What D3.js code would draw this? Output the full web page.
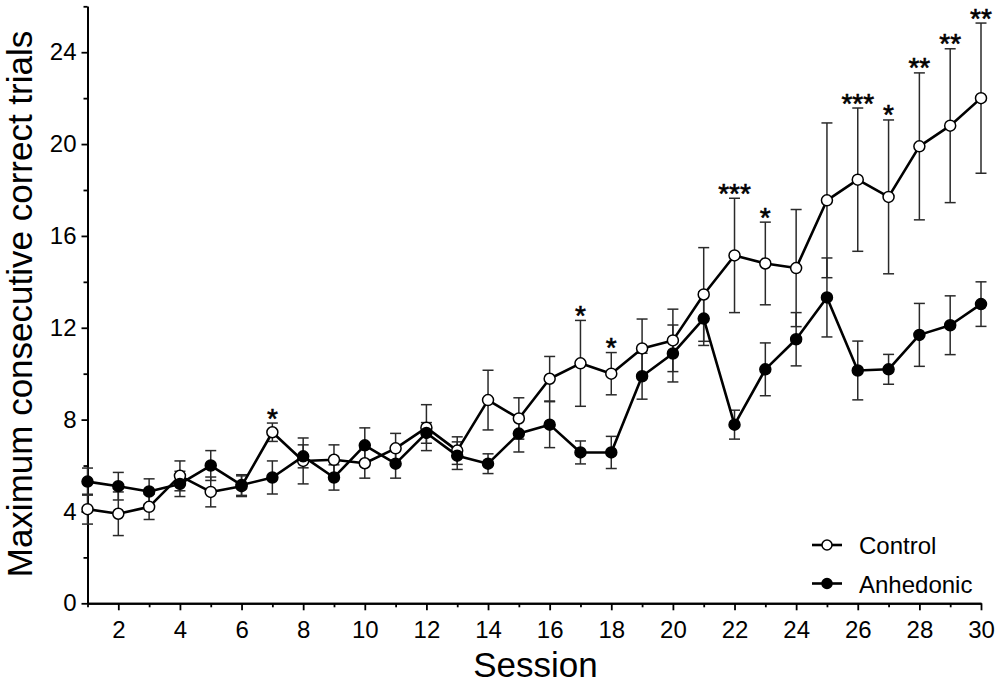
<!DOCTYPE html>
<html>
<head>
<meta charset="utf-8">
<script src="https://cdn.jsdelivr.net/npm/d3@7"></script>
<style>
  html, body { margin: 0; padding: 0; background: #fff; }
  svg { display: block; font-family: "Liberation Sans", Arial, sans-serif; }
</style>
</head>
<body>
<svg id="chart" width="1000" height="687"></svg>
<script>
const sessions = d3.range(1, 31);
const control = [4.1, 3.9, 4.2, 5.55, 4.85, 5.1, 7.45, 6.2, 6.25, 6.1, 6.75, 7.65, 6.65, 8.85, 8.05, 9.78, 10.45, 10.0, 11.1, 11.45, 13.45, 15.15, 14.8, 14.6, 17.55, 18.45, 17.7, 19.9, 20.8, 22.0];
const controlErr = [0.65, 0.95, 0.55, 0.65, 0.65, 0.45, 0.4, 1.0, 0.65, 0.65, 0.65, 1.0, 0.6, 1.3, 0.9, 0.97, 1.87, 0.92, 1.28, 1.36, 2.04, 2.49, 1.8, 2.55, 3.37, 3.12, 3.35, 3.2, 3.35, 3.27];
const anhedonic = [5.3, 5.1, 4.87, 5.2, 6.0, 5.15, 5.48, 6.4, 5.48, 6.88, 6.08, 7.42, 6.43, 6.08, 7.39, 7.78, 6.57, 6.57, 9.89, 10.88, 12.4, 7.78, 10.19, 11.5, 13.32, 10.14, 10.19, 11.69, 12.11, 13.03];
const anhedonicErr = [0.59, 0.6, 0.55, 0.55, 0.65, 0.45, 0.72, 0.5, 0.55, 0.76, 0.63, 0.45, 0.6, 0.43, 0.8, 1.0, 0.5, 0.7, 1.0, 1.24, 1.17, 0.63, 1.15, 1.16, 1.72, 1.28, 0.65, 1.37, 1.28, 0.97];
const starSessions = [7, 17, 18, 22, 23, 26, 27, 28, 29, 30];
const starLabels = ["*", "*", "*", "***", "*", "***", "*", "**", "**", "**"];
const yMajorTicks = [0, 4, 8, 12, 16, 20, 24];
const yMinorTicks = [2, 6, 10, 14, 18, 22, 26];
const xMajorTicks = d3.range(2, 31, 2);
const xMinorTicks = d3.range(1, 31, 2);
const seriesNames = ["Control", "Anhedonic"];

const svg = d3.select("#chart");
const x = d3.scaleLinear().domain([1, 30]).range([87.5, 981]);
const y = d3.scaleLinear().domain([0, 26]).range([603.3, 6.3]);

const series = [
  { name: seriesNames[0], values: control, errs: controlErr, fill: "#fff" },
  { name: seriesNames[1], values: anhedonic, errs: anhedonicErr, fill: "#000" }
];

// axes
const yAxis = svg.append("g").attr("transform", `translate(${x(1)},0)`)
  .call(d3.axisLeft(y).tickValues(yMajorTicks).tickSize(6).tickPadding(5).tickSizeOuter(0));
const yMinor = svg.append("g").attr("transform", `translate(${x(1)},0)`)
  .call(d3.axisLeft(y).tickValues(yMinorTicks).tickSize(4).tickFormat("").tickSizeOuter(0));
const xAxis = svg.append("g").attr("transform", `translate(0,${y(0)})`)
  .call(d3.axisBottom(x).tickValues(xMajorTicks).tickSize(7).tickPadding(11).tickSizeOuter(0));
const xMinor = svg.append("g").attr("transform", `translate(0,${y(0)})`)
  .call(d3.axisBottom(x).tickValues(xMinorTicks).tickSize(4).tickFormat("").tickSizeOuter(0));

[yAxis, yMinor, xAxis, xMinor].forEach(g => {
  g.selectAll(".domain").attr("stroke", "#000").attr("stroke-width", 2);
  g.selectAll(".tick line").attr("stroke", "#000").attr("stroke-width", 1.8);
  g.selectAll(".tick text").attr("font-size", 24).attr("fill", "#000")
    .attr("font-family", '"Liberation Sans", Arial, sans-serif');
});

// error bars
const capHalf = 5.5;
series.forEach(s => {
  const g = svg.append("g").attr("stroke", "#2a2a2a").attr("stroke-width", 1.5).attr("fill", "none");
  sessions.forEach((sess, i) => {
    const cx = x(sess), top = y(s.values[i] + s.errs[i]), bot = y(s.values[i] - s.errs[i]);
    g.append("line").attr("x1", cx).attr("x2", cx).attr("y1", top).attr("y2", bot);
    g.append("line").attr("x1", cx - capHalf).attr("x2", cx + capHalf).attr("y1", top).attr("y2", top);
    g.append("line").attr("x1", cx - capHalf).attr("x2", cx + capHalf).attr("y1", bot).attr("y2", bot);
  });
});

// lines and points
const line = d3.line().x((d, i) => x(sessions[i])).y(d => y(d));
series.forEach(s => {
  svg.append("path").datum(s.values).attr("d", line)
    .attr("fill", "none").attr("stroke", "#000").attr("stroke-width", 2.6).attr("stroke-linejoin", "round");
  svg.append("g").selectAll("circle").data(s.values).join("circle")
    .attr("cx", (d, i) => x(sessions[i])).attr("cy", d => y(d)).attr("r", 5.5)
    .attr("fill", s.fill).attr("stroke", "#000").attr("stroke-width", 1.5);
});

// significance stars
svg.append("g").selectAll("text").data(starSessions).join("text")
  .attr("x", d => x(d))
  .attr("y", d => y(control[d - 1] + controlErr[d - 1]) + 4.5)
  .attr("text-anchor", "middle")
  .attr("font-size", 28).attr("fill", "#000")
  .attr("stroke", "#000").attr("stroke-width", 0.6)
  .text((d, i) => starLabels[i]);

// axis titles
svg.append("text").attr("transform", "translate(32,304) rotate(-90)")
  .attr("text-anchor", "middle").attr("font-size", 35).attr("fill", "#000")
  .text("Maximum consecutive correct trials");
svg.append("text").attr("x", 535.5).attr("y", 677)
  .attr("text-anchor", "middle").attr("font-size", 35).attr("fill", "#000")
  .text("Session");

// legend
const legend = svg.append("g");
series.forEach((s, i) => {
  const ly = 545 + i * 38.5;
  legend.append("line").attr("x1", 812).attr("x2", 842).attr("y1", ly).attr("y2", ly)
    .attr("stroke", "#000").attr("stroke-width", 2.6);
  legend.append("circle").attr("cx", 827).attr("cy", ly).attr("r", 5)
    .attr("fill", s.fill).attr("stroke", "#000").attr("stroke-width", 1.5);
  legend.append("text").attr("x", 859).attr("y", ly + 9)
    .attr("font-size", 24).attr("fill", "#000").text(s.name);
});
</script>
</body>
</html>
